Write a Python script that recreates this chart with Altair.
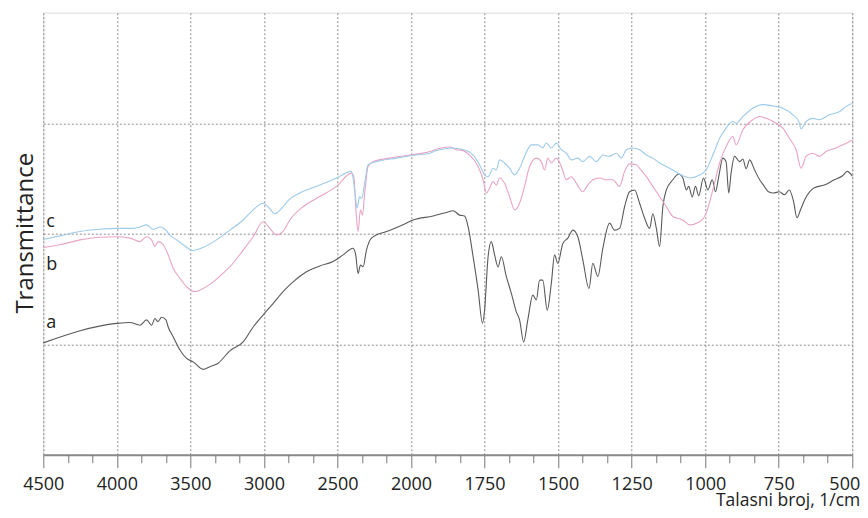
import altair as alt
import pandas as pd

# ---- data (wavenumber in 1/cm, transmittance in %) ----
a_wn = [4500, 4000, 3911, 3843, 3798, 3764, 3741, 3721, 3696, 3666,
        3651, 3617, 3571, 3526, 3481, 3413, 3368, 3311, 3232, 3141,
        3073, 3006, 2938, 2870, 2802, 2711, 2620, 2530, 2462, 2394,
        2376, 2360, 2344, 2326, 2303, 2269, 2167, 2055, 1993, 1925,
        1880, 1857, 1835, 1818, 1806, 1789, 1772, 1757, 1750, 1738,
        1727, 1716, 1704, 1693, 1676, 1659, 1642, 1631, 1617, 1603,
        1586, 1574, 1563, 1552, 1537, 1523, 1512, 1501, 1484, 1467,
        1450, 1433, 1416, 1395, 1382, 1365, 1348, 1325, 1308, 1291,
        1274, 1257, 1240, 1223, 1206, 1189, 1178, 1166, 1155, 1144,
        1132, 1110, 1090, 1076, 1064, 1056, 1044, 1033, 1022, 1006,
        991, 976, 965, 954, 940, 929, 920, 912, 900, 883,
        872, 861, 849, 832, 815, 802, 785, 768, 748, 731,
        714, 700, 688, 675, 656, 629, 595, 561, 533, 517,
        500]
a_T = [25.3, 29.7, 29.9, 29.3, 30.5, 29.3, 30.8, 30.1, 31.1, 30.5,
       28.9, 26.7, 23.7, 21.8, 21.0, 19.3, 19.9, 20.7, 23.5, 25.5,
       28.9, 31.6, 34.2, 36.9, 39.1, 41.4, 42.7, 43.7, 45.2, 46.7,
       45.2, 41.0, 42.9, 42.5, 46.3, 49.0, 50.5, 52.0, 53.1, 54.0,
       54.8, 55.2, 54.2, 54.0, 51.6, 44.8, 37.3, 29.7, 32.7, 44.8,
       48.2, 45.2, 42.5, 44.8, 40.3, 36.5, 32.3, 30.5, 25.5, 30.5,
       36.1, 35.0, 39.5, 39.5, 32.7, 38.8, 45.2, 43.3, 47.8, 49.0,
       50.8, 49.3, 44.1, 37.6, 43.3, 40.3, 46.7, 52.4, 50.8, 51.2,
       56.1, 59.5, 59.9, 56.9, 53.5, 51.2, 54.5, 51.2, 47.1, 56.1,
       59.9, 62.2, 63.5, 62.6, 59.9, 60.7, 58.3, 60.7, 58.6, 62.6,
       59.9, 62.2, 59.5, 62.9, 67.1, 66.3, 59.2, 63.7, 67.5, 66.3,
       66.9, 64.7, 66.7, 64.4, 62.2, 61.0, 59.5, 59.2, 59.5, 58.8,
       59.9, 57.4, 53.6, 55.6, 58.4, 60.4, 61.0, 62.2, 63.1, 64.1,
       63.0]

b_wn = [4500, 4387, 4251, 4115, 4001, 3911, 3843, 3798, 3764, 3741,
        3719, 3685, 3651, 3617, 3571, 3526, 3470, 3413, 3345, 3254,
        3232, 3141, 3073, 3006, 2960, 2915, 2870, 2824, 2734, 2620,
        2507, 2405, 2389, 2376, 2360, 2344, 2330, 2315, 2292, 2258,
        2145, 2009, 1936, 1914, 1869, 1846, 1823, 1801, 1772, 1755,
        1744, 1733, 1721, 1710, 1699, 1682, 1665, 1648, 1631, 1614,
        1597, 1574, 1557, 1546, 1535, 1523, 1506, 1489, 1472, 1455,
        1438, 1416, 1399, 1382, 1359, 1336, 1314, 1291, 1274, 1257,
        1234, 1223, 1200, 1178, 1155, 1132, 1110, 1076, 1053, 1019,
        997, 974, 951, 929, 906, 895, 872, 838, 815, 793,
        759, 736, 714, 691, 674, 657, 634, 612, 589, 555,
        532, 500]
b_T = [46.9, 47.5, 48.6, 49.2, 49.3, 49.0, 48.2, 49.3, 48.6, 47.1,
       48.2, 47.5, 45.2, 42.2, 39.9, 38.0, 36.9, 37.6, 39.1, 41.8,
       42.5, 46.3, 49.3, 52.7, 51.2, 49.7, 50.5, 53.1, 56.1, 58.4,
       60.7, 63.7, 62.9, 56.1, 50.5, 55.4, 54.2, 59.2, 65.2, 66.3,
       67.1, 67.8, 68.6, 69.1, 69.6, 69.0, 68.8, 67.8, 65.2, 62.2,
       59.2, 60.3, 61.8, 61.0, 62.6, 61.4, 58.4, 55.4, 56.9, 60.7,
       65.2, 67.1, 66.3, 64.4, 67.1, 66.0, 67.1, 65.2, 62.2, 62.9,
       61.4, 59.5, 61.0, 62.2, 62.6, 62.2, 62.2, 60.7, 64.1, 65.8,
       65.6, 64.8, 62.9, 60.7, 58.4, 56.1, 53.9, 53.1, 52.0, 52.7,
       54.6, 59.9, 66.0, 69.7, 72.0, 70.1, 73.5, 75.8, 76.5, 76.1,
       75.0, 73.9, 71.6, 69.0, 64.8, 67.5, 68.2, 67.5, 68.6, 69.4,
       70.1, 71.2]

c_wn = [4500, 4387, 4251, 4115, 4001, 3889, 3843, 3798, 3753, 3707,
        3673, 3639, 3594, 3549, 3481, 3413, 3322, 3232, 3141, 3073,
        3006, 2972, 2926, 2870, 2836, 2756, 2620, 2507, 2405, 2383,
        2367, 2349, 2335, 2315, 2292, 2235, 2099, 1982, 1936, 1914,
        1857, 1812, 1789, 1767, 1750, 1738, 1721, 1710, 1699, 1682,
        1665, 1648, 1631, 1614, 1591, 1569, 1552, 1540, 1523, 1506,
        1489, 1472, 1455, 1433, 1416, 1393, 1370, 1348, 1325, 1302,
        1285, 1268, 1246, 1223, 1200, 1178, 1155, 1132, 1110, 1076,
        1053, 1019, 997, 974, 951, 929, 906, 895, 872, 838,
        804, 770, 736, 702, 682, 674, 657, 634, 612, 578,
        544, 521, 500]
c_T = [48.7, 49.5, 50.5, 51.0, 51.2, 51.2, 51.5, 52.0, 51.0, 51.5,
       51.0, 49.7, 48.6, 47.5, 46.2, 46.9, 48.6, 50.8, 53.1, 55.4,
       56.9, 56.1, 54.5, 56.1, 57.5, 59.2, 61.0, 62.6, 64.1, 59.9,
       55.8, 58.4, 58.0, 61.4, 65.6, 66.3, 67.1, 67.8, 68.2, 68.8,
       69.4, 68.8, 67.8, 65.6, 63.3, 62.9, 64.8, 64.4, 66.7, 66.0,
       64.8, 63.3, 64.8, 67.5, 70.1, 70.1, 69.4, 70.5, 69.4, 70.5,
       69.0, 68.2, 66.7, 67.1, 66.3, 67.5, 66.3, 67.8, 67.5, 68.2,
       67.1, 69.0, 69.4, 69.0, 67.8, 67.1, 66.0, 65.2, 64.4, 63.1,
       62.6, 63.3, 64.4, 67.8, 71.6, 73.9, 75.4, 75.0, 76.5, 78.4,
       79.2, 78.9, 78.4, 76.9, 75.4, 73.7, 75.4, 76.1, 75.8, 76.9,
       77.6, 78.8, 79.5]

series_names = ["a", "b", "c"]
series_colors = ["#5a5a5a", "#e9a3c5", "#9ecbea"]

label_text = ["a", "b", "c"]
label_wn = [4480, 4480, 4480]
label_T = [28.6, 41.8, 51.5]

major_ticks = [4500, 4000, 3500, 3000, 2500, 2000, 1750, 1500, 1250, 1000, 750, 500]
y_grid = [25, 50, 75]

# ---- build tables ----
frames = []
for name, wn, t in zip(series_names, [a_wn, b_wn, c_wn], [a_T, b_T, c_T]):
    frames.append(pd.DataFrame({"wn": wn, "T": t, "series": name}))
df = pd.concat(frames, ignore_index=True)
labels_df = pd.DataFrame({"wn": label_wn, "T": label_T, "label": label_text})

minor_ticks = []
for hi, lo in zip(major_ticks[:-1], major_ticks[1:]):
    step = (hi - lo) / 3
    minor_ticks += [hi - step, hi - 2 * step]

W, H = 809, 442
xscale = alt.Scale(domain=[4500, 2000, 500], range=[0, W * 5 / 11, W], nice=False, zero=False)
yscale = alt.Scale(domain=[0, 100], nice=False, zero=False)

FONT = "Open Sans"

lines = alt.Chart(df).mark_line(strokeWidth=1.1, interpolate="monotone").encode(
    x=alt.X("wn:Q", scale=xscale,
            axis=alt.Axis(values=major_ticks, format="d", orient="bottom",
                          title="Talasni broj, 1/cm", titleFont=FONT, titleFontSize=17.5,
                          titleFontWeight="normal", titleColor="#222",
                          titleAlign="right", titleBaseline="alphabetic",
                          titleX=816.5, titleY=50.5,
                          labelFont=FONT, labelFontSize=18, labelColor="#222",
                          labelBaseline="alphabetic", labelPadding=22,
                          labelOffset={"condition": {"test": "datum.value == 500", "value": -8}, "value": 0},
                          labelFlush=False, labelOverlap=False,
                          tickSize=13, tickColor="#777", tickWidth=1,
                          domain=True, domainColor="#8a8a8a", domainWidth=2,
                          grid=True, gridColor="#8c8c8c", gridDash=[2, 2], gridWidth=1)),
    y=alt.Y("T:Q", scale=yscale,
            axis=alt.Axis(values=y_grid, labels=False, ticks=False, domain=False,
                          title="Transmittance", titleFont=FONT, titleFontSize=24,
                          titleFontWeight="normal", titleColor="#222",
                          titleBaseline="alphabetic", titleAlign="center",
                          titleX=-10.5, titleY=220,
                          grid=True, gridColor="#8c8c8c", gridDash=[2, 2], gridWidth=1)),
    color=alt.Color("series:N", scale=alt.Scale(domain=series_names, range=series_colors), legend=None),
)

texts = alt.Chart(labels_df).mark_text(align="left", baseline="alphabetic", fontSize=18,
                                       font=FONT, color="#222").encode(
    x=alt.X("wn:Q", scale=xscale,
            axis=alt.Axis(values=minor_ticks, labels=False, title=None, grid=False,
                          domain=False, orient="bottom", tickSize=8, tickColor="#777", tickWidth=1)),
    y=alt.Y("T:Q", scale=yscale),
    text="label:N",
)

chart = alt.layer(lines, texts).resolve_axis(x="independent").properties(
    width=W, height=H,
    padding={"left": 35.3, "top": 4.7, "right": 7.5, "bottom": 55},
    autosize=alt.AutoSizeParams(type="none"),
).configure_view(stroke="#8a8a8a", strokeWidth=1).configure(background="white")

chart.save("out.html", embed_options={"renderer": "svg", "actions": False})
